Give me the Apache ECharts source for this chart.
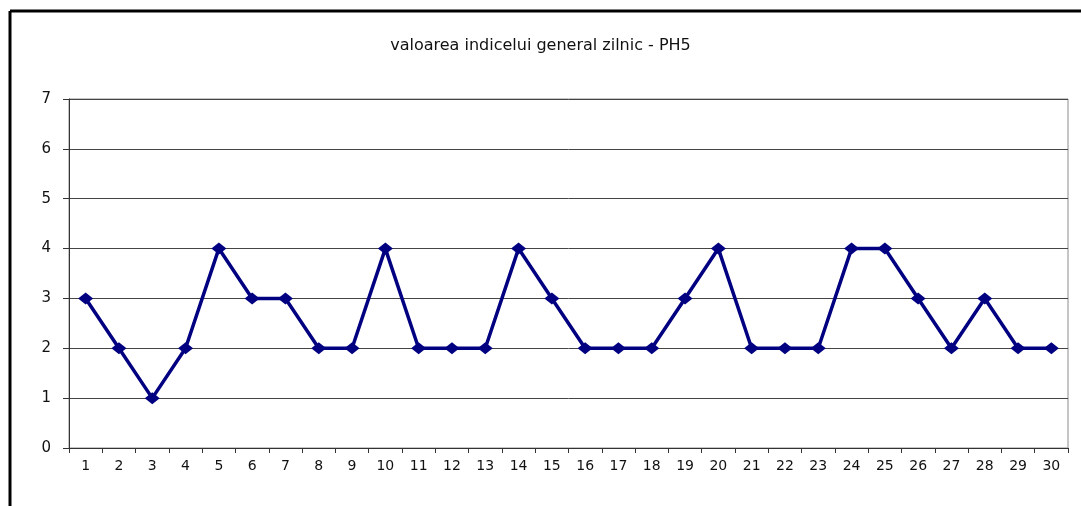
<!DOCTYPE html>
<html>
<head>
<meta charset="utf-8">
<script src="https://cdn.jsdelivr.net/npm/echarts@6/dist/echarts.min.js"></script>
<style>
  html, body { margin: 0; padding: 0; background: #fff; }
  #chart { width: 1081px; height: 506px; }
</style>
</head>
<body>
<div id="chart"></div>
<script>
// day numbers along the x axis
const days = ['1', '2', '3', '4', '5', '6', '7', '8', '9', '10',
  '11', '12', '13', '14', '15', '16', '17', '18', '19', '20',
  '21', '22', '23', '24', '25', '26', '27', '28', '29', '30']

// daily index values
const indexValues = [3, 2, 1, 2, 4, 3, 3, 2, 2, 4,
  2, 2, 2, 4, 3, 2, 2, 2, 3, 4,
  2, 2, 2, 4, 4, 3, 2, 3, 2, 2]

const chartTitle = 'valoarea indicelui general zilnic - PH5'

let chart = echarts.init(document.getElementById('chart'))

let opts = {
  animation: false,
  backgroundColor: '#fff',
  textStyle: { fontFamily: 'DejaVu Sans, Arial, sans-serif' },
  title: {
    text: chartTitle,
    left: 'center',
    top: 33,
    textStyle: { fontSize: 16, fontWeight: 'normal', color: '#111', fontFamily: 'DejaVu Sans' }
  },
  grid: { left: 69, right: 13, top: 99, bottom: 58, show: true, borderColor: '#8c8c8c', borderWidth: 1 },
  // outer frame: only the top and left edges are visible
  graphic: [
    { type: 'line', shape: { x1: 10, y1: 11, x2: 1081, y2: 11 }, style: { stroke: '#000', lineWidth: 3 } },
    { type: 'line', shape: { x1: 10, y1: 11, x2: 10, y2: 506 }, style: { stroke: '#000', lineWidth: 3 } }
  ],
  xAxis: {
    type: 'category',
    data: days,
    boundaryGap: true,
    axisLine: { lineStyle: { color: '#333', width: 1 } },
    axisTick: { show: true, length: 5, lineStyle: { color: '#333' } },
    axisLabel: { color: '#111', fontSize: 14, margin: 11, interval: 0, fontFamily: 'DejaVu Sans' },
    splitLine: { show: false }
  },
  yAxis: {
    type: 'value',
    min: 0,
    max: 7,
    interval: 1,
    axisLine: { show: true, lineStyle: { color: '#333', width: 1 } },
    axisTick: { show: true, length: 6, lineStyle: { color: '#333' } },
    axisLabel: { color: '#111', fontSize: 15, margin: 18, fontFamily: 'DejaVu Sans' },
    splitLine: { show: true, lineStyle: { color: '#444', width: 1 } }
  },
  series: [
    {
      name: 'PH5',
      type: 'line',
      data: indexValues,
      symbol: 'diamond',
      symbolSize: [15, 12],
      lineStyle: { color: '#000080', width: 3.5 },
      itemStyle: { color: '#000080' }
    }
  ]
}

chart.setOption(opts)
</script>
</body>
</html>
